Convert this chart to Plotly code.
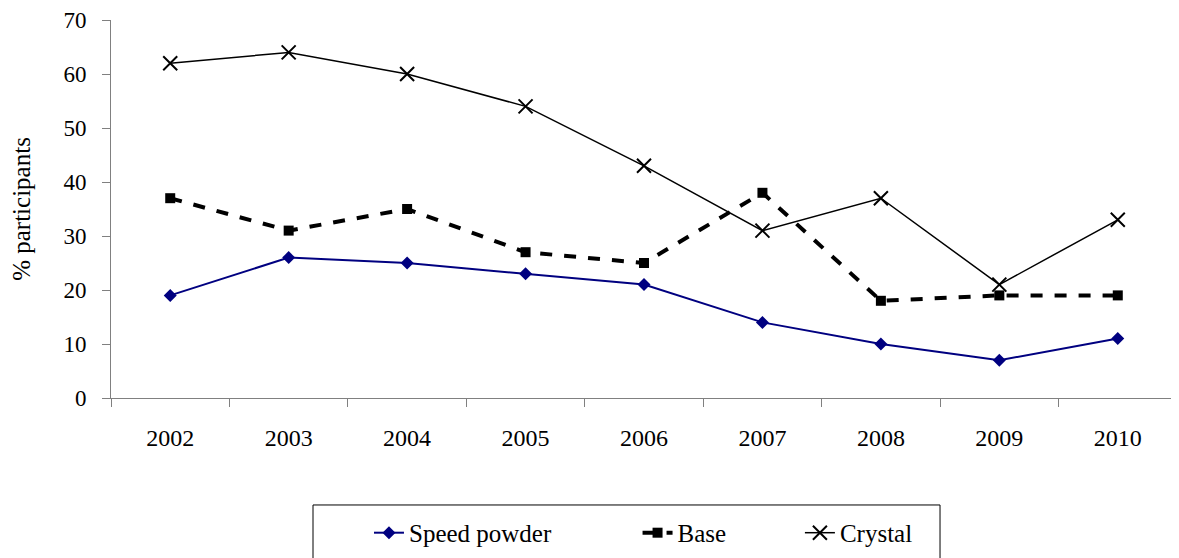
import plotly.graph_objects as go

years = ["2002", "2003", "2004", "2005", "2006", "2007", "2008", "2009", "2010"]
speed_powder = [19, 26, 25, 23, 21, 14, 10, 7, 11]
base = [37, 31, 35, 27, 25, 38, 18, 19, 19]
crystal = [62, 64, 60, 54, 43, 31, 37, 21, 33]

FONT = "'Liberation Serif', 'Times New Roman', serif"
NB = "\u00a0"

fig = go.Figure()
fig.add_trace(go.Scatter(
    x=years, y=speed_powder, name="Speed powder" + NB * 13, mode="lines+markers",
    line=dict(color="#000080", width=2),
    marker=dict(symbol="diamond", size=10, color="#000080"),
))
fig.add_trace(go.Scatter(
    x=years, y=base, name="Base" + NB * 11, mode="lines+markers",
    line=dict(color="black", width=4, dash="dash"),
    marker=dict(symbol="square", size=10, color="black"),
))
fig.add_trace(go.Scatter(
    x=years, y=crystal, name="Crystal", mode="lines+markers",
    line=dict(color="black", width=1.5),
    marker=dict(symbol="x-thin", size=14, color="black",
                line=dict(color="black", width=2)),
))

# legend frame
fig.add_shape(type="rect", xref="paper", yref="paper",
              x0=0.1895, x1=0.7777, y0=-0.283, y1=-0.6,
              line=dict(color="black", width=1), fillcolor="rgba(0,0,0,0)")

fig.update_layout(
    width=1179, height=558,
    margin=dict(l=103, r=10, t=12, b=168),
    plot_bgcolor="white", paper_bgcolor="white",
    font=dict(family=FONT, size=24, color="black"),
    showlegend=True,
    legend=dict(
        orientation="h", x=0.242, y=-0.357, xanchor="left", yanchor="middle",
        borderwidth=0, bgcolor="rgba(0,0,0,0)",
        font=dict(family=FONT, size=25),
    ),
    xaxis=dict(
        type="category", tickson="boundaries", ticks="outside", ticklen=8,
        tickcolor="#808080", showline=True, linecolor="#808080", linewidth=1,
        showgrid=False, ticklabelstandoff=18, range=[-0.5, 8.5], automargin=False,
    ),
    yaxis=dict(
        range=[0, 70], dtick=10, ticks="outside", ticklen=8,
        tickcolor="#808080", showline=True, linecolor="#808080", linewidth=1,
        showgrid=False, zeroline=False, ticklabelstandoff=11, automargin=False,
        tickfont=dict(size=23),
        title=dict(text="% participants", font=dict(size=25), standoff=28),
    ),
)

fig.write_html("out.html")
